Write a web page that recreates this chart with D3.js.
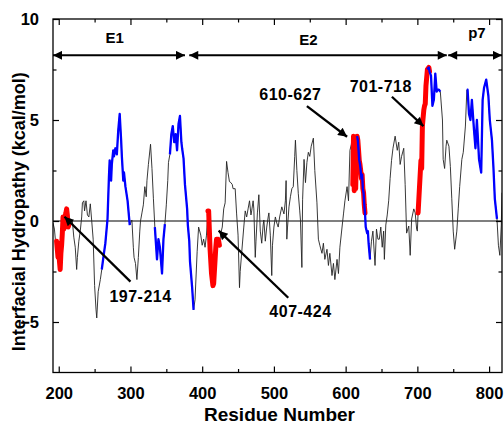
<!DOCTYPE html>
<html>
<head>
<meta charset="utf-8">
<script src="https://cdn.jsdelivr.net/npm/d3@7/dist/d3.min.js"></script>
<style>
  html, body { margin: 0; padding: 0; background: #fff; }
  svg { display: block; }
  text { font-family: "Liberation Sans", Arial, sans-serif; font-weight: bold; fill: #000; }
</style>
</head>
<body>
<svg id="chart" width="504" height="425"></svg>
<script>
// ---- data ----
const residues = [
  192,194,196,197,199,200,201,202,203,204,205,206,207,208,210,211,212,213,214,216,
  219,221,223,225,226,228,230,232,233,235,236,238,240,242,244,246,248,250,252,253,
  255,258,260,263,265,268,270,271,273,274,276,277,279,281,283,285,287,288,290,291,
  293,296,299,302,304,305,307,309,311,313,314,316,318,320,322,323,325,328,330,332,
  334,337,339,341,344,346,348,350,352,353,355,357,359,361,363,365,367,369,371,372,
  374,376,379,380,382,383,386,388,390,393,395,398,400,402,404,406,408,409,411,413,
  415,416,418,419,420,421,422,423,424,426,428,430,432,434,436,438,440,442,443,446,
  448,450,452,453,455,458,460,462,464,466,468,469,471,472,474,475,477,479,481,483,
  485,486,488,490,492,493,495,497,498,500,502,504,506,508,511,514,516,517,518,519,
  521,523,525,527,529,530,532,534,536,537,539,540,542,544,546,548,550,552,555,557,
  560,562,564,567,569,571,574,576,578,581,583,585,588,590,592,595,597,599,602,604,
  606,608,609,610,611,612,613,614,615,616,617,618,619,620,621,622,623,624,625,626,
  627,628,630,631,632,634,636,638,641,643,645,647,649,651,653,654,656,658,660,662,
  664,666,669,672,674,676,678,681,683,685,688,690,692,695,697,699,700,701,703,705,
  706,707,709,710,711,712,714,716,717,719,721,723,725,727,728,730,732,735,736,738,
  740,741,744,746,748,750,752,755,757,759,762,764,767,769,770,772,774,776,779,781,
  783,786,789,791,793,796,799,801,804,806,808,811,813,815,817,818
];
const hydropathy = [
  -0.1,-0.4,-1.2,-1.0,-1.8,-1.1,-2.0,-2.4,-1.6,-1.2,-0.6,0.2,-0.4,0.1,0.4,0.6,0.3,-0.3,-0.2,0.1,
  0.0,-0.8,-1.3,-2.4,-1.8,-1.0,-0.5,0.2,0.9,1.0,0.5,1.0,0.3,0.2,0.85,0.0,-0.9,-3.2,-4.4,-4.8,
  -3.5,-2.9,-2.4,-1.6,-1.1,0.1,2.2,3.0,2.0,2.8,3.5,3.2,3.6,3.3,4.5,5.3,4.0,3.2,2.0,2.4,
  1.7,1.0,-0.2,0.05,-1.3,-1.8,-2.1,-2.9,-1.8,-0.5,0.0,0.4,0.8,1.7,1.2,2.0,2.8,3.8,2.6,1.1,
  -0.3,-1.9,-0.9,-1.3,-2.6,-0.9,-0.15,0.8,2.0,2.9,3.3,4.3,4.7,3.9,4.3,3.5,4.8,5.2,3.9,3.6,
  3.1,1.8,0.6,-0.2,-1.0,-2.0,-3.3,-4.4,-3.9,-1.5,-0.3,-0.7,-1.2,-0.9,-1.3,-0.7,0.5,0.5,-1.4,-2.6,
  -3.2,-3.1,-1.9,-1.3,-0.9,-1.1,-0.9,-1.0,-1.2,-0.6,-0.3,0.6,0.9,2.95,2.4,1.95,1.9,1.8,1.6,1.6,
  0.35,-0.7,-3.3,-2.5,-1.6,-0.3,0.5,0.2,0.6,1.0,0.3,0.5,1.0,0.6,-1.8,-1.0,0.4,1.3,-0.5,-1.1,
  -0.2,0.05,-1.0,-0.3,0.2,0.4,-0.7,-2.7,-1.2,-0.3,0.2,-0.1,-0.3,0.2,0.7,0.35,1.0,2.0,-0.9,-0.3,
  0.7,1.2,1.6,1.7,3.2,4.0,2.5,1.35,0.5,0.05,-2.3,1.05,3.05,1.9,2.9,3.4,3.2,3.7,4.1,2.5,
  0.9,-0.9,-1.2,-1.6,-1.1,-1.9,-1.4,-2.2,-1.6,-2.7,-2.1,-2.9,-1.9,-2.6,-1.3,-0.3,0.35,1.0,1.7,1.0,
  3.5,3.8,4.2,1.8,4.2,1.5,4.0,1.6,3.2,4.2,4.0,3.5,3.0,2.8,2.5,2.1,2.3,1.6,1.4,0.8,
  0.4,-0.3,-0.6,-0.5,-1.1,-1.9,-1.0,-0.5,-2.2,-0.4,-0.9,-0.9,-0.3,-1.3,-0.5,-1.9,-0.2,0.3,1.0,2.1,
  3.0,3.6,4.2,3.5,3.9,2.8,3.2,3.6,1.8,-0.6,-0.25,-1.7,0.1,0.6,0.4,-0.4,-0.5,0.4,1.7,3.0,
  2.6,4.7,5.5,5.7,5.8,6.7,7.5,7.6,7.4,7.2,5.7,6.0,7.3,6.4,6.5,6.5,6.4,5.0,3.05,2.6,
  3.7,4.0,3.7,2.7,1.1,-0.5,-1.4,-0.5,0.6,1.7,3.05,3.4,4.7,6.5,6.5,5.3,5.0,6.0,4.5,3.6,
  5.0,3.05,2.4,6.0,6.6,7.0,6.2,5.0,4.0,2.7,1.1,0.1,-1.2,-1.7,-0.2,1.4
];
// highlighted residue ranges
const redRanges  = [[197,214],[407,424],[610,627],[701,718]];
const blueRanges = [[260,299],[334,348],[355,388],[616,634],[714,732],[769,811]];
// annotation labels for red ranges
const annoLabels = ["197-214","407-424","610-627","701-718"];
// protein region labels and extents
const regionLabels = ["E1","E2","p7"];
const regionStart  = [192,382,743];
const regionEnd    = [376,741,818];
// axes
const xDomain = [192, 818];
const yDomain = [-7.5, 10];
const xTicks = [200,300,400,500,600,700,800];
const xMinor = [250,350,450,550,650,750];
const yTicks = [-5,0,5,10];
const yMinor = [-2.5,2.5,7.5];
const xTitle = "Residue Number";
const yTitle = "Interfacial Hydropathy (kcal/mol)";

// ---- layout ----
const M = {left:53, top:19, right:502, bottom:372.5};
const svg = d3.select("#chart");
const x = d3.scaleLinear().domain(xDomain).range([M.left, M.right]);
const y = d3.scaleLinear().domain(yDomain).range([M.bottom, M.top]);

const defs = svg.append("defs");
defs.append("clipPath").attr("id","plotclip").append("rect")
  .attr("x",M.left).attr("y",M.top).attr("width",M.right-M.left).attr("height",M.bottom-M.top);
defs.append("marker").attr("id","head").attr("viewBox","0 0 10 10")
  .attr("refX",10).attr("refY",5).attr("markerWidth",14).attr("markerHeight",9)
  .attr("markerUnits","userSpaceOnUse").attr("orient","auto-start-reverse")
  .append("path").attr("d","M0,0 L10,5 L0,10 Z").attr("fill","#000");
defs.append("marker").attr("id","head2").attr("viewBox","0 0 10 10")
  .attr("refX",10).attr("refY",5).attr("markerWidth",13).attr("markerHeight",9)
  .attr("markerUnits","userSpaceOnUse").attr("orient","auto")
  .append("path").attr("d","M0,0 L10,5 L0,10 Z").attr("fill","#000");

const pts = residues.map((r,i)=>({r, v:hydropathy[i]}));
const line = d3.line().x(d=>x(d.r)).y(d=>y(d.v));

const plot = svg.append("g").attr("clip-path","url(#plotclip)");
// zero line
plot.append("line").attr("x1",M.left).attr("x2",M.right)
  .attr("y1",y(0)).attr("y2",y(0)).attr("stroke","#000").attr("stroke-width",1.2);
// base profile
plot.append("path").datum(pts).attr("d",line)
  .attr("fill","none").attr("stroke","#222").attr("stroke-width",0.9);
// red
redRanges.forEach(([a,b])=>{
  plot.append("path").datum(pts.filter(p=>p.r>=a && p.r<=b)).attr("d",line)
    .attr("fill","none").attr("stroke","#ff0000").attr("stroke-width",5)
    .attr("stroke-linejoin","round").attr("stroke-linecap","round");
});
// blue
blueRanges.forEach(([a,b])=>{
  plot.append("path").datum(pts.filter(p=>p.r>=a && p.r<=b)).attr("d",line)
    .attr("fill","none").attr("stroke","#0000ff").attr("stroke-width",2.3)
    .attr("stroke-linejoin","round");
});

// ---- axes ----
function tickAxis(gen, tr, vals, size){
  return svg.append("g").attr("transform",tr)
    .call(gen.tickValues(vals).tickSize(size).tickFormat(""))
    .call(g=>g.select(".domain").remove())
    .call(g=>g.selectAll("line").attr("stroke","#000").attr("stroke-width",1.2));
}
// bottom
svg.append("g").attr("transform",`translate(0,${M.bottom})`)
  .call(d3.axisBottom(x).tickValues(xTicks).tickSize(-6).tickPadding(12))
  .call(g=>g.select(".domain").remove())
  .call(g=>g.selectAll("line").attr("stroke","#000").attr("stroke-width",1.2))
  .call(g=>g.selectAll("text").attr("font-size",16.5).attr("font-family","Liberation Sans, Arial, sans-serif").attr("font-weight","bold").attr("dy","0.9em"));
tickAxis(d3.axisBottom(x), `translate(0,${M.bottom})`, xMinor, -3.5);
// top
tickAxis(d3.axisTop(x), `translate(0,${M.top})`, xTicks, -6);
tickAxis(d3.axisTop(x), `translate(0,${M.top})`, xMinor, -3.5);
// left
svg.append("g").attr("transform",`translate(${M.left},0)`)
  .call(d3.axisLeft(y).tickValues(yTicks).tickSize(-6).tickPadding(14))
  .call(g=>g.select(".domain").remove())
  .call(g=>g.selectAll("line").attr("stroke","#000").attr("stroke-width",1.2))
  .call(g=>g.selectAll("text").attr("font-size",16.5).attr("font-family","Liberation Sans, Arial, sans-serif").attr("font-weight","bold"));
tickAxis(d3.axisLeft(y), `translate(${M.left},0)`, yMinor, -3.5);
// right
tickAxis(d3.axisRight(y), `translate(${M.right},0)`, yTicks, -6);
tickAxis(d3.axisRight(y), `translate(${M.right},0)`, yMinor, -3.5);
// frame
svg.append("rect").attr("x",M.left).attr("y",M.top)
  .attr("width",M.right-M.left).attr("height",M.bottom-M.top)
  .attr("fill","none").attr("stroke","#000").attr("stroke-width",1.3);

// axis titles
svg.append("text").attr("x",(M.left+M.right)/2+2).attr("y",421)
  .attr("text-anchor","middle").attr("font-size",19).text(xTitle);
svg.append("text").attr("transform",`translate(25,${(M.top+M.bottom)/2+16}) rotate(-90)`)
  .attr("text-anchor","middle").attr("font-size",18).text(yTitle);

// ---- region arrows ----
const regionY = 8.2;
const regionLabelY = [8.8, 8.7, 9.05];
const regionLabelX = [278, 548, 783];
regionLabels.forEach((lab,i)=>{
  svg.append("line")
    .attr("x1",x(regionStart[i])).attr("x2",x(regionEnd[i]))
    .attr("y1",y(regionY)).attr("y2",y(regionY))
    .attr("stroke","#000").attr("stroke-width",2)
    .attr("marker-start","url(#head)").attr("marker-end","url(#head)");
  svg.append("text").attr("x",x(regionLabelX[i])).attr("y",y(regionLabelY[i]))
    .attr("text-anchor","middle").attr("font-size",15).text(lab);
});

// ---- annotation arrows (label position, arrow tail, arrow tip in data units) ----
const annoText = [[314,-4.0],[537,-4.77],[523,6.0],[649,6.4]];
const annoTail = [[300,-3.0],[520,-3.8],[546,5.69],[664.5,6.15]];
const annoTip  = [[208,0.21],[423,-0.48],[602,4.17],[708.5,4.7]];
annoLabels.forEach((lab,i)=>{
  svg.append("line")
    .attr("x1",x(annoTail[i][0])).attr("y1",y(annoTail[i][1]))
    .attr("x2",x(annoTip[i][0])).attr("y2",y(annoTip[i][1]))
    .attr("stroke","#000").attr("stroke-width",2.3)
    .attr("marker-end","url(#head2)");
  svg.append("text").attr("x",x(annoText[i][0])).attr("y",y(annoText[i][1]))
    .attr("text-anchor","middle").attr("font-size",16).attr("letter-spacing",0.5).text(lab);
});
</script>
</body>
</html>
